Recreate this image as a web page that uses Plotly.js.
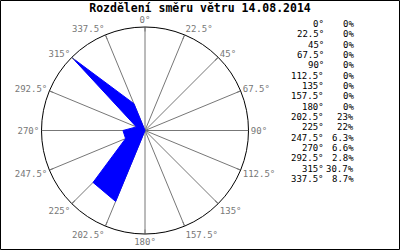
<!DOCTYPE html>
<html><head><meta charset="utf-8">
<script src="https://cdn.plot.ly/plotly-3.0.1.min.js"></script>
<style>html,body{margin:0;padding:0;background:#fff}#c{width:400px;height:250px}</style>
</head><body><div id="c"></div>
<script>
const directions = [0, 22.5, 45, 67.5, 90, 112.5, 135, 157.5, 180, 202.5, 225, 247.5, 270, 292.5, 315, 337.5];
const percents = [0, 0, 0, 0, 0, 0, 0, 0, 0, 23, 22, 6.3, 6.6, 2.8, 30.7, 8.7];
const titleText = 'Rozdělení směru větru 14.08.2014';

const mono = 'DejaVu Sans Mono, Liberation Mono, monospace';
const trace = {
  type: 'scatterpolar',
  r: percents.concat([percents[0]]),
  theta: directions.concat([directions[0]]),
  mode: 'lines',
  fill: 'toself',
  fillcolor: '#0000ff',
  line: {color: '#0000ff', width: 1},
  hoverinfo: 'skip'
};

const annotations = [];
directions.forEach((d, i) => {
  const ypx = 24 + i * 10.33;
  annotations.push({xref: 'paper', yref: 'paper', x: 326/400, y: 1 - ypx/250, xanchor: 'right', yanchor: 'middle',
    text: d + '°', showarrow: false, font: {family: mono, size: 9, color: '#000'}});
  annotations.push({xref: 'paper', yref: 'paper', x: 356/400, y: 1 - ypx/250, xanchor: 'right', yanchor: 'middle',
    text: percents[i] + '%', showarrow: false, font: {family: mono, size: 9, color: '#000'}});
});

const layout = {
  width: 400, height: 250,
  margin: {l: 0, r: 0, t: 0, b: 0},
  paper_bgcolor: '#fff',
  showlegend: false,
  title: {text: '<b>' + titleText + '</b>', x: 0.5, xanchor: 'center', y: 1 - 8/250, yanchor: 'middle',
    font: {family: mono, size: 11.5, color: '#000'}},
  polar: {
    domain: {x: [41.5/400, 248.5/400], y: [16/250, 223/250]},
    bgcolor: '#fff',
    radialaxis: {range: [0, 31], visible: false, showgrid: false},
    angularaxis: {
      rotation: 90, direction: 'clockwise',
      tickmode: 'array', tickvals: directions, ticktext: directions.map(d => d + '°'),
      showgrid: true, gridcolor: '#777', gridwidth: 1,
      showline: true, linecolor: '#000', linewidth: 1,
      ticks: 'inside', ticklen: 4, tickcolor: '#777', tickwidth: 1,
      tickfont: {family: mono, size: 9, color: '#777'}
    }
  },
  annotations: annotations,
  shapes: [{type: 'rect', xref: 'paper', yref: 'paper', x0: 0.5/400, x1: 399.5/400, y0: 0.5/250, y1: 249.5/250,
    line: {color: '#000', width: 1}}]
};

Plotly.newPlot('c', [trace], layout, {staticPlot: true, displayModeBar: false});
</script></body></html>
